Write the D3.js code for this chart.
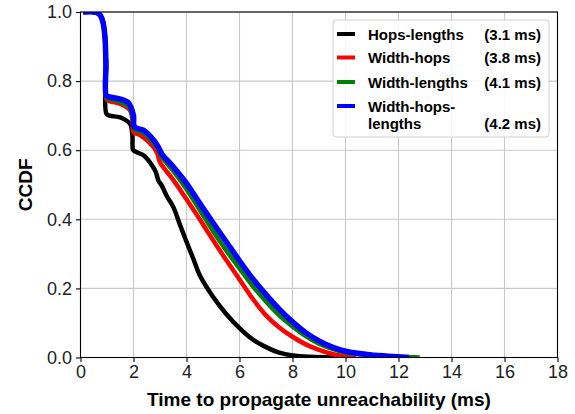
<!DOCTYPE html>
<html>
<head>
<meta charset="utf-8">
<script src="https://cdn.jsdelivr.net/npm/d3@7"></script>
<style>
  body { margin: 0; background: #fff; }
  svg { display: block; }
</style>
</head>
<body>
<div id="wrapper"></div>
<script>
'use strict';

// legend labels and mean values
const seriesNames = ['Hops-lengths', 'Width-hops', 'Width-lengths', 'Width-hops-lengths'];
const seriesMeans = ['(3.1 ms)', '(3.8 ms)', '(4.1 ms)', '(4.2 ms)'];

// CCDF curves (x = time in ms, y = CCDF)
const hopsLengthsX = [0.1, 0.6, 0.75, 0.85, 0.92, 0.96, 0.98, 1.1, 1.5, 1.8, 1.9, 1.96, 1.99, 2.1, 2.4, 2.75, 2.85, 2.95, 3.05, 3.25, 3.5, 3.75, 4.0, 4.26, 4.5, 5.0, 5.5, 6.0, 6.5, 7.0, 7.5, 8.0, 8.7, 9.5, 10.2];
const hopsLengthsY = [1.0, 0.999, 0.99, 0.97, 0.93, 0.85, 0.705, 0.70, 0.695, 0.682, 0.672, 0.64, 0.60, 0.595, 0.584, 0.55, 0.535, 0.51, 0.50, 0.468, 0.436, 0.385, 0.335, 0.285, 0.238, 0.176, 0.126, 0.085, 0.052, 0.03, 0.014, 0.006, 0.002, 0.0005, 0];

const widthHopsX = [0.1, 0.6, 0.75, 0.85, 0.92, 0.96, 0.98, 1.1, 1.5, 1.8, 1.9, 1.97, 2.0, 2.25, 2.75, 2.9, 3.0, 3.5, 4.0, 4.5, 5.0, 5.5, 6.0, 6.5, 7.0, 7.5, 8.0, 8.5, 9.0, 9.5, 10.0, 10.4];
const widthHopsY = [1.0, 0.999, 0.99, 0.97, 0.93, 0.85, 0.748, 0.742, 0.734, 0.721, 0.71, 0.68, 0.652, 0.644, 0.61, 0.59, 0.565, 0.514, 0.458, 0.40, 0.34, 0.282, 0.226, 0.17, 0.122, 0.087, 0.06, 0.038, 0.022, 0.01, 0.003, 0];

const widthLengthsX = [0.1, 0.6, 0.75, 0.85, 0.92, 0.96, 0.98, 1.1, 1.5, 1.8, 1.9, 1.98, 2.02, 2.35, 2.75, 2.95, 3.05, 3.5, 4.0, 4.5, 5.0, 5.5, 6.0, 6.5, 7.0, 7.5, 8.0, 8.5, 9.0, 9.5, 10.0, 11.0, 12.0, 12.8];
const widthLengthsY = [1.0, 0.999, 0.99, 0.97, 0.93, 0.85, 0.752, 0.748, 0.74, 0.728, 0.716, 0.69, 0.66, 0.651, 0.622, 0.60, 0.582, 0.54, 0.487, 0.427, 0.366, 0.31, 0.258, 0.207, 0.162, 0.122, 0.09, 0.062, 0.04, 0.025, 0.014, 0.006, 0.002, 0];

const widthHopsLengthsX = [0.1, 0.6, 0.75, 0.85, 0.92, 0.96, 0.98, 1.1, 1.5, 1.8, 1.9, 2.0, 2.04, 2.37, 2.75, 3.0, 3.06, 3.5, 4.0, 4.5, 5.0, 5.5, 6.0, 6.5, 7.0, 7.5, 8.0, 8.5, 9.0, 9.5, 10.0, 10.8, 11.6, 12.4];
const widthHopsLengthsY = [1.0, 0.999, 0.99, 0.97, 0.93, 0.85, 0.757, 0.754, 0.748, 0.738, 0.725, 0.70, 0.667, 0.658, 0.63, 0.60, 0.59, 0.552, 0.504, 0.446, 0.39, 0.335, 0.28, 0.228, 0.182, 0.14, 0.103, 0.072, 0.048, 0.03, 0.018, 0.009, 0.004, 0];

// tick labels
const xTicks = [0, 2, 4, 6, 8, 10, 12, 14, 16, 18];
const yTicks = [0.0, 0.2, 0.4, 0.6, 0.8, 1.0];

const seriesX = [hopsLengthsX, widthHopsX, widthLengthsX, widthHopsLengthsX];
const seriesY = [hopsLengthsY, widthHopsY, widthLengthsY, widthHopsLengthsY];
const colors = ['#000000', '#ff0000', '#008000', '#0000ff'];

function drawChart () {
  const dimensions = {
    width: 575,
    height: 414,
    margin: { top: 12, right: 17.5, bottom: 56.5, left: 80.5 },
  };
  dimensions.boundedWidth = dimensions.width - dimensions.margin.left - dimensions.margin.right;
  dimensions.boundedHeight = dimensions.height - dimensions.margin.top - dimensions.margin.bottom;

  const xScale = d3.scaleLinear()
    .domain([0, 18])
    .range([0, dimensions.boundedWidth]);

  const yScale = d3.scaleLinear()
    .domain([0, 1])
    .range([dimensions.boundedHeight, 0]);

  const wrapper = d3.select('#wrapper')
    .append('svg')
    .attr('width', dimensions.width)
    .attr('height', dimensions.height);

  const bounds = wrapper.append('g')
    .attr('transform', `translate(${dimensions.margin.left}, ${dimensions.margin.top})`);

  bounds.append('clipPath')
    .attr('id', 'plot-clip')
    .append('rect')
    .attr('width', dimensions.boundedWidth)
    .attr('height', dimensions.boundedHeight);

  // grid
  bounds.append('g')
    .selectAll('line')
    .data(xTicks)
    .join('line')
    .attr('x1', d => xScale(d))
    .attr('x2', d => xScale(d))
    .attr('y1', 0)
    .attr('y2', dimensions.boundedHeight)
    .attr('stroke', '#c8c8c8')
    .attr('stroke-width', 1.1);

  bounds.append('g')
    .selectAll('line')
    .data(yTicks)
    .join('line')
    .attr('x1', 0)
    .attr('x2', dimensions.boundedWidth)
    .attr('y1', d => yScale(d))
    .attr('y2', d => yScale(d))
    .attr('stroke', '#c8c8c8')
    .attr('stroke-width', 1.1);

  // curves - centripetal catmull-rom keeps the rounded shoulders without overshoot
  const lineGenerator = d3.line()
    .x(d => xScale(d[0]))
    .y(d => yScale(d[1]))
    .curve(d3.curveCatmullRom.alpha(0.5));

  const lines = bounds.append('g').attr('clip-path', 'url(#plot-clip)');
  seriesX.forEach((xs, i) => {
    const points = xs.map((x, j) => [x, seriesY[i][j]]);
    lines.append('path')
      .attr('d', lineGenerator(points))
      .attr('fill', 'none')
      .attr('stroke', colors[i])
      .attr('stroke-width', i === 3 ? 5.5 : 4.5)
      .attr('stroke-linejoin', 'round');
  });

  // axes
  const xAxis = bounds.append('g')
    .attr('transform', `translate(0, ${dimensions.boundedHeight})`)
    .call(d3.axisBottom(xScale).tickValues(xTicks).tickSize(4.5).tickPadding(3).tickFormat(d3.format('d')));

  const yAxis = bounds.append('g')
    .call(d3.axisLeft(yScale).tickValues(yTicks).tickSize(4.5).tickPadding(4).tickFormat(d3.format('.1f')));

  [xAxis, yAxis].forEach(axis => {
    axis.select('.domain').remove();
    axis.selectAll('.tick line').attr('stroke', '#000').attr('stroke-width', 1.1);
    axis.selectAll('.tick text')
      .attr('fill', '#222')
      .style('font-family', '"Liberation Sans", Arial, sans-serif')
      .style('font-size', '18px');
  });

  // frame
  bounds.append('rect')
    .attr('width', dimensions.boundedWidth)
    .attr('height', dimensions.boundedHeight)
    .attr('fill', 'none')
    .attr('stroke', '#000')
    .attr('stroke-width', 1.1);

  // axis titles
  wrapper.append('text')
    .attr('x', dimensions.margin.left + dimensions.boundedWidth / 2)
    .attr('y', 406)
    .attr('text-anchor', 'middle')
    .style('font-family', '"Liberation Sans", Arial, sans-serif')
    .style('font-weight', 'bold')
    .style('font-size', '19px')
    .text('Time to propagate unreachability (ms)');

  wrapper.append('text')
    .attr('transform', `translate(32, ${dimensions.margin.top + dimensions.boundedHeight / 2}) rotate(-90)`)
    .attr('text-anchor', 'middle')
    .style('font-family', '"Liberation Sans", Arial, sans-serif')
    .style('font-weight', 'bold')
    .style('font-size', '19px')
    .text('CCDF');

  // legend
  const legend = wrapper.append('g');
  legend.append('rect')
    .attr('x', 333)
    .attr('y', 20)
    .attr('width', 216)
    .attr('height', 117)
    .attr('rx', 3)
    .attr('fill', '#fff')
    .attr('fill-opacity', 0.85)
    .attr('stroke', '#d0d0d0');

  const rowY = [34, 57.5, 82, 106];
  seriesNames.forEach((name, i) => {
    const row = legend.append('g')
      .attr('transform', `translate(0, ${rowY[i]})`)
      .style('font-family', '"Liberation Sans", Arial, sans-serif')
      .style('font-weight', 'bold')
      .style('font-size', '15px');
    row.append('line')
      .attr('x1', 337).attr('x2', 355)
      .attr('stroke', colors[i])
      .attr('stroke-width', 4);
    const wrapped = i === 3 ? ['Width-hops-', 'lengths'] : [name];
    wrapped.forEach((part, k) => {
      row.append('text')
        .attr('x', 368)
        .attr('y', 5.5 + k * 17)
        .text(part);
    });
    row.append('text')
      .attr('x', 541)
      .attr('y', 5.5 + (wrapped.length - 1) * 17)
      .attr('text-anchor', 'end')
      .text(seriesMeans[i]);
  });
}

drawChart();
</script>
</body>
</html>
